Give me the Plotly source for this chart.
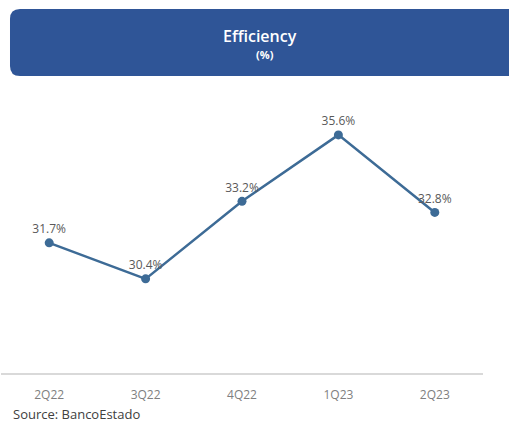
import plotly.graph_objects as go

quarters = ["2Q22", "3Q22", "4Q22", "1Q23", "2Q23"]
efficiency = [31.7, 30.4, 33.2, 35.6, 32.8]
value_labels = [f"{v:.1f}%" for v in efficiency]

W, H = 509, 424
ML, MR, MT, MB = 1, 26, 100, 51
PW, PH = W - ML - MR, H - MT - MB

def px_to_paper(x, y):
    return (x - ML) / PW, (H - MB - y) / PH

def rounded_rect(x0, y0, x1, y1, r):
    def p(x, y):
        a, b = px_to_paper(x, y)
        return f"{a:.5f},{b:.5f}"
    return (f"M {p(x0 + r, y0)} L {p(x1 - r, y0)} Q {p(x1, y0)} {p(x1, y0 + r)} "
            f"L {p(x1, y1 - r)} Q {p(x1, y1)} {p(x1 - r, y1)} "
            f"L {p(x0 + r, y1)} Q {p(x0, y1)} {p(x0, y1 - r)} "
            f"L {p(x0, y0 + r)} Q {p(x0, y0)} {p(x0 + r, y0)} Z")

LABEL_FONT = "Open Sans, sans-serif"

fig = go.Figure()
fig.add_trace(go.Scatter(
    x=quarters, y=efficiency, mode="lines+markers+text",
    text=value_labels, textposition="top center",
    textfont=dict(family=LABEL_FONT, size=12, color="#595959"),
    line=dict(color="#3D6B96", width=2.5),
    marker=dict(color="#3D6B96", size=9),
    cliponaxis=False, hoverinfo="skip",
))

# header banner with rounded corners
fig.add_shape(type="path", xref="paper", yref="paper",
              path=rounded_rect(10, 9, 520, 76, 10),
              fillcolor="#2F5597", line=dict(width=0), layer="above")

def note(x, y, text, size, color, family, xanchor="center", weight="normal"):
    px, py = px_to_paper(x, y)
    fig.add_annotation(x=px, y=py, xref="paper", yref="paper", text=text,
                       showarrow=False, xanchor=xanchor, yanchor="middle",
                       font=dict(family=family, size=size, color=color, weight=weight))

note(260, 36, "Efficiency", 16, "white", LABEL_FONT, weight=600)
note(265, 55, "(%)", 11, "white", LABEL_FONT, weight=700)
note(11, 414, "Source: BancoEstado", 13, "#404040", LABEL_FONT, xanchor="left")

fig.update_layout(
    width=W, height=H, margin=dict(l=ML, r=MR, t=MT, b=MB),
    paper_bgcolor="white", plot_bgcolor="white", showlegend=False,
    xaxis=dict(range=[-0.5, 4.5], showgrid=False, zeroline=False,
               showline=True, linecolor="#D9D9D9", linewidth=1.5,
               ticks="", ticklabelstandoff=10,
               tickfont=dict(family=LABEL_FONT, size=12, color="#7F7F7F"),
               fixedrange=True),
    yaxis=dict(range=[27.0, 36.86], visible=False, fixedrange=True),
)

fig.write_html("out.html", config={"displayModeBar": False})
